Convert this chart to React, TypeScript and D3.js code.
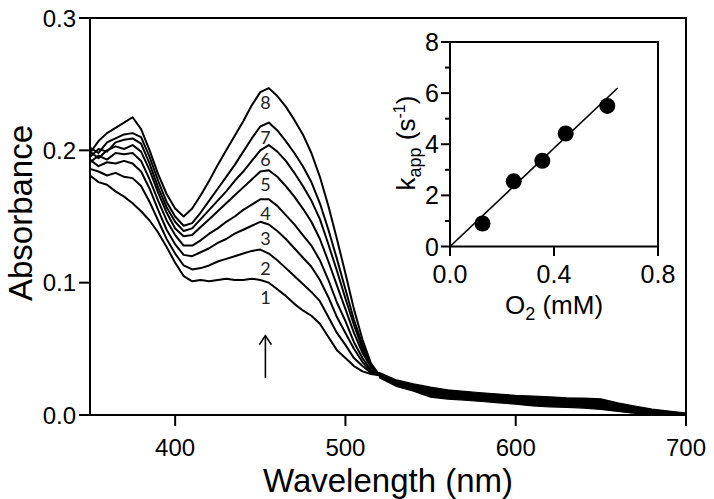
import React from "react";
import * as d3 from "d3";

// wavelength grid of the spectra (nm)
const wavelengths = [
  350, 355, 360, 365, 370, 375, 380, 385, 390, 395, 400, 405, 410, 415, 420, 425, 430, 435,
  440, 445, 450, 455, 460, 465, 470, 475, 480, 485, 490, 495, 500, 505, 510, 515, 520,
];

// absorbance traces 1..8
const trace1 = [0.181, 0.176, 0.174, 0.169, 0.165, 0.16, 0.154, 0.147, 0.138, 0.127, 0.115, 0.105, 0.101, 0.102, 0.101, 0.102, 0.103, 0.102, 0.102, 0.103, 0.102, 0.1, 0.095, 0.09, 0.084, 0.079, 0.075, 0.069, 0.059, 0.049, 0.043, 0.037, 0.033, 0.031, 0.03];
const trace2 = [0.186, 0.184, 0.181, 0.183, 0.18, 0.179, 0.173, 0.161, 0.147, 0.133, 0.122, 0.113, 0.11, 0.111, 0.113, 0.116, 0.118, 0.12, 0.122, 0.124, 0.125, 0.122, 0.117, 0.111, 0.105, 0.099, 0.093, 0.086, 0.074, 0.062, 0.053, 0.043, 0.037, 0.032, 0.03];
const trace3 = [0.193, 0.188, 0.191, 0.19, 0.192, 0.19, 0.184, 0.171, 0.155, 0.14, 0.129, 0.121, 0.12, 0.123, 0.126, 0.13, 0.133, 0.137, 0.14, 0.143, 0.146, 0.144, 0.139, 0.133, 0.126, 0.119, 0.112, 0.102, 0.089, 0.074, 0.062, 0.05, 0.04, 0.033, 0.03];
const trace4 = [0.191, 0.196, 0.193, 0.198, 0.197, 0.198, 0.192, 0.178, 0.162, 0.147, 0.136, 0.128, 0.128, 0.132, 0.137, 0.141, 0.146, 0.15, 0.155, 0.159, 0.163, 0.163, 0.158, 0.151, 0.144, 0.136, 0.128, 0.117, 0.102, 0.085, 0.071, 0.055, 0.043, 0.034, 0.03];
const trace5 = [0.199, 0.194, 0.2, 0.203, 0.201, 0.204, 0.199, 0.185, 0.168, 0.153, 0.141, 0.135, 0.136, 0.142, 0.148, 0.154, 0.16, 0.166, 0.172, 0.178, 0.184, 0.185, 0.18, 0.173, 0.165, 0.156, 0.146, 0.133, 0.116, 0.098, 0.08, 0.062, 0.047, 0.036, 0.03];
const trace6 = [0.195, 0.201, 0.199, 0.206, 0.208, 0.209, 0.205, 0.19, 0.172, 0.157, 0.146, 0.139, 0.141, 0.148, 0.155, 0.162, 0.169, 0.177, 0.184, 0.192, 0.2, 0.204, 0.199, 0.192, 0.183, 0.173, 0.162, 0.148, 0.129, 0.109, 0.088, 0.068, 0.05, 0.037, 0.03];
const trace7 = [0.202, 0.198, 0.206, 0.209, 0.212, 0.213, 0.21, 0.195, 0.177, 0.161, 0.15, 0.143, 0.145, 0.153, 0.162, 0.171, 0.18, 0.189, 0.199, 0.209, 0.218, 0.221, 0.215, 0.207, 0.198, 0.188, 0.176, 0.16, 0.14, 0.118, 0.095, 0.072, 0.053, 0.038, 0.03];
const trace8 = [0.198, 0.207, 0.213, 0.217, 0.221, 0.225, 0.216, 0.2, 0.182, 0.167, 0.156, 0.15, 0.156, 0.166, 0.177, 0.189, 0.2, 0.211, 0.222, 0.234, 0.244, 0.247, 0.241, 0.233, 0.223, 0.212, 0.198, 0.18, 0.158, 0.133, 0.107, 0.08, 0.057, 0.039, 0.03];
const traces = [trace1, trace2, trace3, trace4, trace5, trace6, trace7, trace8];
const traceLabels = ["1", "2", "3", "4", "5", "6", "7", "8"];

// above 520 nm all traces overlap into one noisy band
const tailNm = [520, 530, 540, 550, 560, 570, 580, 590, 600, 610, 620, 630, 640, 650, 660, 670, 680, 690, 700];
const tailHigh = [0.032, 0.0265, 0.0235, 0.021, 0.019, 0.0178, 0.0168, 0.0158, 0.0148, 0.0143, 0.0138, 0.013, 0.0128, 0.0122, 0.0092, 0.0068, 0.0045, 0.003, 0.0015];
const tailLow = [0.028, 0.0215, 0.018, 0.0135, 0.012, 0.0112, 0.0102, 0.0092, 0.0082, 0.0068, 0.0062, 0.0057, 0.0052, 0.0042, 0.0027, 0.0012, 0.0002, 0, 0];

const xTicks = [400, 500, 600, 700];
const yTicks = [0, 0.1, 0.2, 0.3];

// arrow annotation (nm, absorbance from -> to)
const arrowNm = 453;
const arrowFrom = 0.028;
const arrowTo = 0.06;

// inset: kapp vs O2
const o2 = [0.125, 0.245, 0.355, 0.445, 0.605];
const kapp = [0.9, 2.55, 3.35, 4.42, 5.5];
const fitX = [0, 0.645];
const fitY = [0, 6.2];
const insetXTicks = [0, 0.4, 0.8];
const insetYTicks = [0, 2, 4, 6, 8];
const insetYMinor = [1, 3, 5, 7];

const W = 714;
const H = 499;
const font = "'Liberation Sans', Arial, sans-serif";

export default function App() {
  const x = d3.scaleLinear().domain([350, 700]).range([90, 686]);
  const y = d3.scaleLinear().domain([0, 0.3]).range([415, 18]);

  const ix = d3.scaleLinear().domain([0, 0.8]).range([450, 658]);
  const iy = d3.scaleLinear().domain([0, 8]).range([246.5, 42]);

  const line = d3
    .line<number>()
    .x((_, i) => x(wavelengths[i]))
    .y((d) => y(d));

  const band = d3
    .area<number>()
    .x((d) => x(d))
    .y0((_, i) => y(tailLow[i]))
    .y1((_, i) => y(tailHigh[i]));

  const fmt = d3.format(".1f");
  const peakIdx = wavelengths.indexOf(455);
  const ax = x(arrowNm);

  return (
    <svg
      width={W}
      height={H}
      style={{ position: "absolute", left: 0, top: 0, background: "#fff" }}
      fontFamily={font}
    >
      <rect width={W} height={H} fill="#fff" />

      {/* spectra */}
      <g fill="none" stroke="#000" strokeWidth={2} strokeLinejoin="round">
        {traces.map((t, i) => (
          <path key={i} d={line(t) || ""} />
        ))}
      </g>
      <path d={band(tailNm) || ""} fill="#000" stroke="#000" strokeWidth={1.2} />

      {/* trace numbers */}
      <g fontFamily="Lato, 'Open Sans', sans-serif" fontSize={18} textAnchor="middle" fill="#222">
        {traces.map((t, i) => (
          <text key={i} x={x(arrowNm)} y={y(t[peakIdx]) + 14} dominantBaseline="central">
            {traceLabels[i]}
          </text>
        ))}
      </g>

      {/* arrow */}
      <g stroke="#000" strokeWidth={1.6} fill="none">
        <line x1={ax} x2={ax} y1={y(arrowFrom)} y2={y(arrowTo)} />
        <path d={`M${ax - 6},${y(arrowTo) + 9} L${ax},${y(arrowTo)} L${ax + 6},${y(arrowTo) + 9}`} />
      </g>

      {/* frame */}
      <rect x={90} y={18} width={596} height={397} fill="none" stroke="#000" strokeWidth={2} />

      {/* main axes ticks */}
      <g stroke="#000" strokeWidth={2}>
        {yTicks.map((t) => (
          <line key={t} x1={79} x2={90} y1={y(t)} y2={y(t)} />
        ))}
        {xTicks.map((t) => (
          <line key={t} x1={x(t)} x2={x(t)} y1={415} y2={426} />
        ))}
      </g>
      <g fontSize={24} fill="#000">
        {yTicks.map((t) => (
          <text key={t} x={76} y={y(t)} textAnchor="end" dominantBaseline="central">
            {fmt(t)}
          </text>
        ))}
        {xTicks.map((t) => (
          <text key={t} x={x(t)} y={456} textAnchor="middle">
            {t}
          </text>
        ))}
      </g>
      <text x={388} y={492} fontSize={33} textAnchor="middle">
        Wavelength (nm)
      </text>
      <text transform="translate(32,213) rotate(-90)" fontSize={33} textAnchor="middle">
        Absorbance
      </text>

      {/* inset */}
      <rect x={450} y={42} width={208} height={204.5} fill="#fff" stroke="#000" strokeWidth={2} />
      <line
        x1={ix(fitX[0])}
        y1={iy(fitY[0])}
        x2={ix(fitX[1])}
        y2={iy(fitY[1])}
        stroke="#000"
        strokeWidth={1.6}
      />
      {o2.map((v, i) => (
        <circle key={i} cx={ix(v)} cy={iy(kapp[i])} r={8} fill="#000" />
      ))}
      <g stroke="#000" strokeWidth={2}>
        {insetYTicks.map((t) => (
          <line key={t} x1={441} x2={450} y1={iy(t)} y2={iy(t)} />
        ))}
        {insetYMinor.map((t) => (
          <line key={t} x1={445} x2={450} y1={iy(t)} y2={iy(t)} />
        ))}
        {insetXTicks.map((t) => (
          <line key={t} x1={ix(t)} x2={ix(t)} y1={246.5} y2={256} />
        ))}
      </g>
      <g fontSize={25} fill="#000">
        {insetYTicks.map((t) => (
          <text key={t} x={439} y={iy(t)} textAnchor="end" dominantBaseline="central">
            {t}
          </text>
        ))}
        {insetXTicks.map((t) => (
          <text key={t} x={ix(t)} y={283} textAnchor="middle">
            {fmt(t)}
          </text>
        ))}
      </g>
      <text x={554} y={314} fontSize={26} textAnchor="middle">
        O<tspan fontSize={18} dy={6}>2</tspan>
        <tspan dy={-6}> (mM)</tspan>
      </text>
      <text transform="translate(415,143) rotate(-90)" fontSize={26} textAnchor="middle">
        k<tspan fontSize={18} dy={6}>app</tspan>
        <tspan dy={-6}> (s</tspan>
        <tspan fontSize={16} dy={-10}>-1</tspan>
        <tspan dy={10}>)</tspan>
      </text>
    </svg>
  );
}
